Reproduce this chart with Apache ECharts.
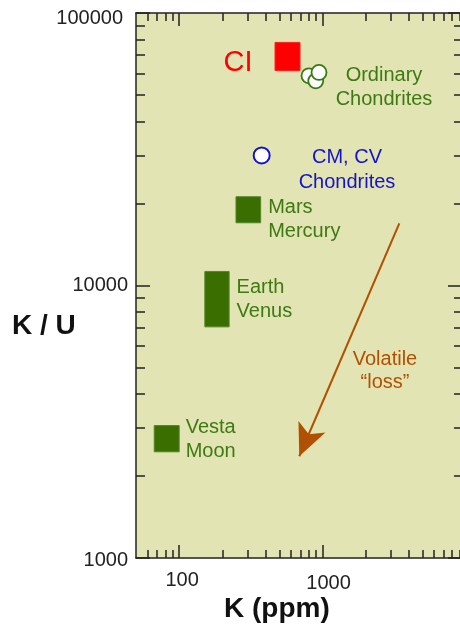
<!DOCTYPE html>
<html>
<head>
<meta charset="utf-8">
<script src="https://cdn.jsdelivr.net/npm/echarts@6/dist/echarts.min.js"></script>
<style>
  html, body { margin: 0; padding: 0; background: #fff; }
  #chart { width: 460px; height: 627px; }
</style>
</head>
<body>
<div id="chart"></div>
<script>
// K vs K/U, log-log
const xMajor = [100, 1000]
const xMinor = [60, 70, 80, 90, 200, 300, 400, 500, 600, 700, 800, 900, 2000, 3000, 4000, 5000, 6000, 7000, 8000, 9000]
const yMajor = [1000, 10000, 100000]
const yMinor = [2000, 3000, 4000, 5000, 6000, 7000, 8000, 9000, 20000, 30000, 40000, 50000, 60000, 70000, 80000, 90000]

// boxes: K range (ppm) and K/U range
const boxNames = ['CI', 'Mars\nMercury', 'Earth\nVenus', 'Vesta\nMoon']
const boxKLow = [466, 249, 151, 67]
const boxKHigh = [696, 370, 223, 100]
const boxKULow = [61500, 16990, 7050, 2453]
const boxKUHigh = [78000, 21170, 11260, 3062]

// ordinary chondrites (open green circles)
const ocK = [804, 896, 944]
const ocKU = [58830, 56360, 60500]
// CM, CV chondrites
const cmK = [376]
const cmKU = [30000]

// volatile loss arrow: start, end
const arrowK = [3428, 688]
const arrowKU = [16890, 2363]

const FONT = '"Liberation Sans", Arial, sans-serif'
const GREEN_TXT = '#3d7a12'
const GREEN_BOX = '#3a6e00'
const BROWN = '#b05000'
const BLUE = '#1414c8'
const AXIS = '#222'

const boxLabel = [
  { pos: 'left', dist: 22, offset: [0, 7], color: '#ff0000', size: 29 },
  { pos: 'right', dist: 7, offset: [0, 10], color: GREEN_TXT, size: 20 },
  { pos: 'right', dist: 7, offset: [0, 0], color: GREEN_TXT, size: 20 },
  { pos: 'right', dist: 6, offset: [0, 1], color: GREEN_TXT, size: 20 }
]

const chart = echarts.init(document.getElementById('chart'))

const tickFont = { color: '#222', fontSize: 20, fontFamily: FONT }

function xAx(pos, ticks, len, labels, line) {
  return {
    type: 'log', position: pos, min: 50, max: 10000, gridIndex: 0,
    axisLine: { show: line, lineStyle: { color: AXIS, width: 1.5 } },
    axisTick: { show: true, inside: true, length: len, customValues: ticks, lineStyle: { color: AXIS, width: 1.5 } },
    axisLabel: labels ? {
      show: true, customValues: labels, margin: 12, ...tickFont,
      formatter: v => (v === 100 ? '{a|100}' : '{b|' + v + '}'),
      rich: { a: { ...tickFont, padding: [0, 0, 0, 6] }, b: { ...tickFont, padding: [3, 0, 0, 12] } }
    } : { show: false },
    splitLine: { show: false }, minorTick: { show: false }
  }
}
function yAx(pos, ticks, len, labels, line) {
  return {
    type: 'log', position: pos, min: 1000, max: 100000, gridIndex: 0,
    axisLine: { show: line, lineStyle: { color: AXIS, width: 1.5 } },
    axisTick: { show: true, inside: true, length: len, customValues: ticks, lineStyle: { color: AXIS, width: 1.5 } },
    axisLabel: labels ? {
      show: true, customValues: labels, margin: 8, ...tickFont,
      formatter: v => (v === 100000 ? '{t|100000}' : v === 1000 ? '{m|1000}' : '{n|' + v + '}'),
      rich: {
        t: { ...tickFont, padding: [10, 5, 0, 0] },
        m: { ...tickFont, padding: [4, 0, 0, 0] },
        n: { ...tickFont }
      }
    } : { show: false },
    splitLine: { show: false }, minorTick: { show: false }
  }
}

const boxData = boxNames.map((n, i) => [boxKLow[i], boxKHigh[i], boxKULow[i], boxKUHigh[i], i])

const option = {
  animation: false,
  backgroundColor: '#fff',
  grid: {
    left: 136, top: 13, right: -6, bottom: 69,
    outerBoundsMode: 'none',
    show: true, backgroundColor: '#e2e4b3', borderWidth: 0
  },
  xAxis: [
    xAx('bottom', [100, 1000, 10000], 13, xMajor, true),
    xAx('bottom', xMinor, 8, null, false),
    xAx('top', [100, 1000, 10000], 13, null, true),
    xAx('top', xMinor, 8, null, false)
  ],
  yAxis: [
    yAx('left', yMajor, 14, yMajor, true),
    yAx('left', yMinor, 9, null, false),
    yAx('right', yMajor, 18, null, true),
    yAx('right', yMinor, 12, null, false)
  ],
  graphic: [
    { type: 'text', left: 12, top: 312, style: { text: 'K / U', font: 'bold 28px ' + FONT, fill: '#111' } },
    { type: 'text', left: 224, top: 595, style: { text: 'K (ppm)', font: 'bold 28px ' + FONT, fill: '#111' } },
    { type: 'text', x: 384, y: 87, style: { text: 'Ordinary\nChondrites', font: '20px ' + FONT, fill: GREEN_TXT, align: 'center', verticalAlign: 'middle', lineHeight: 24 } },
    { type: 'text', x: 347, y: 170, style: { text: 'CM, CV\nChondrites', font: '20px ' + FONT, fill: BLUE, align: 'center', verticalAlign: 'middle', lineHeight: 25 } },
    { type: 'text', x: 385, y: 371, style: { text: 'Volatile\n\u201closs\u201d', font: '20px ' + FONT, fill: BROWN, align: 'center', verticalAlign: 'middle', lineHeight: 23 } }
  ],
  series: [
    {
      type: 'custom',
      xAxisIndex: 0, yAxisIndex: 0,
      data: boxData,
      silent: true,
      renderItem: function (params, api) {
        const i = api.value(4)
        const p0 = api.coord([api.value(0), api.value(3)])
        const p1 = api.coord([api.value(1), api.value(2)])
        const lb = boxLabel[i]
        const red = i === 0
        return {
          type: 'rect',
          shape: { x: p0[0], y: p0[1], width: p1[0] - p0[0], height: p1[1] - p0[1] },
          style: { fill: red ? '#ff0000' : GREEN_BOX, stroke: red ? '#ff2020' : '#55852a', lineWidth: 1 },
          textContent: {
            style: { text: boxNames[i], fill: lb.color, font: lb.size + 'px ' + FONT, lineHeight: 24 }
          },
          textConfig: { position: lb.pos, distance: lb.dist, offset: lb.offset }
        }
      }
    },
    {
      type: 'scatter',
      xAxisIndex: 0, yAxisIndex: 0,
      data: ocK.map((k, i) => [k, ocKU[i]]),
      symbol: 'circle', symbolSize: 15,
      itemStyle: { color: '#fff', borderColor: '#3a7a10', borderWidth: 1.8, opacity: 1 },
      silent: true
    },
    {
      type: 'scatter',
      xAxisIndex: 0, yAxisIndex: 0,
      data: cmK.map((k, i) => [k, cmKU[i]]),
      symbol: 'circle', symbolSize: 16,
      itemStyle: { color: '#fff', borderColor: BLUE, borderWidth: 2, opacity: 1 },
      silent: true
    },
    {
      type: 'line',
      xAxisIndex: 0, yAxisIndex: 0,
      data: [],
      silent: true,
      markLine: {
        silent: true,
        symbol: ['none', 'arrow'],
        symbolSize: [22, 32],
        label: { show: false },
        lineStyle: { color: BROWN, width: 2, type: 'solid' },
        data: [[{ coord: [arrowK[0], arrowKU[0]] }, { coord: [arrowK[1], arrowKU[1]] }]]
      }
    }
  ]
}

chart.setOption(option)
</script>
</body>
</html>
